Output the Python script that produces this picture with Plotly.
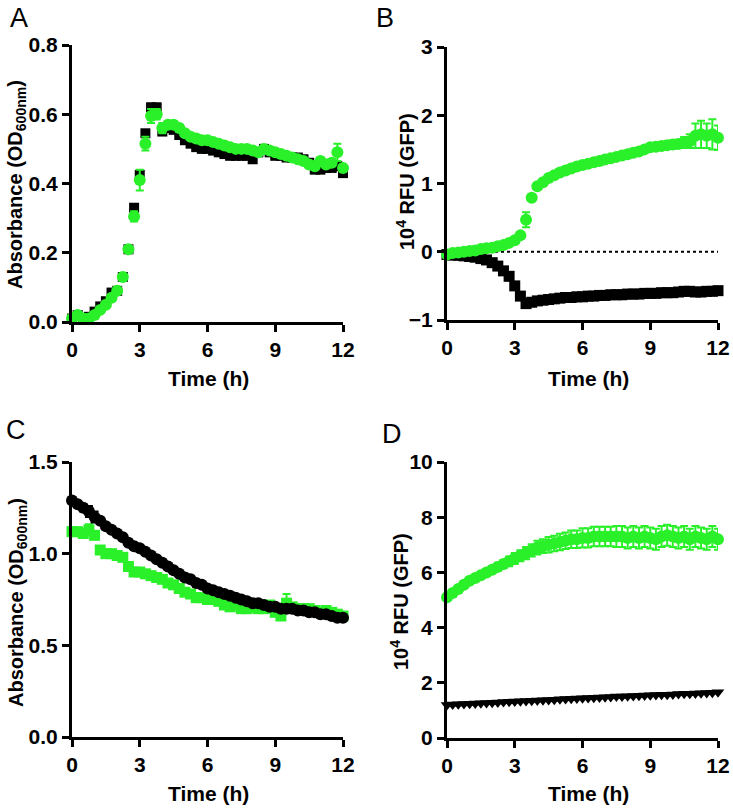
import plotly.graph_objects as go

W, H = 733, 808

time_h = [0, 0.25, 0.5, 0.75, 1, 1.25, 1.5, 1.75, 2, 2.25, 2.5, 2.75, 3, 3.25, 3.5, 3.75,
          4, 4.25, 4.5, 4.75, 5, 5.25, 5.5, 5.75, 6, 6.25, 6.5, 6.75, 7, 7.25, 7.5, 7.75,
          8, 8.25, 8.5, 8.75, 9, 9.25, 9.5, 9.75, 10, 10.25, 10.5, 10.75, 11, 11.25, 11.5, 11.75, 12]

# Panel A: absorbance
a_black = [0.010, 0.020, 0.010, 0.015, 0.030, 0.045, 0.060, 0.085, 0.090, 0.130,
           0.210, 0.330, 0.425, 0.545, 0.620, 0.620, 0.550, 0.560, 0.555, 0.540,
           0.525, 0.515, 0.505, 0.500, 0.500, 0.495, 0.490, 0.485, 0.480, 0.480,
           0.480, 0.480, 0.470, 0.490, 0.500, 0.490, 0.480, 0.480, 0.475, 0.475,
           0.475, 0.470, 0.460, 0.440, 0.440, 0.445, 0.445, 0.450, 0.430]
a_black_err = [0.005] * 14 + [0.010, 0.010] + [0.005] * 33
a_green = [0.010, 0.020, 0.010, 0.010, 0.020, 0.035, 0.050, 0.070, 0.090, 0.130,
           0.210, 0.305, 0.410, 0.515, 0.595, 0.600, 0.560, 0.570, 0.570, 0.560,
           0.545, 0.535, 0.530, 0.525, 0.525, 0.520, 0.515, 0.510, 0.505, 0.500,
           0.500, 0.500, 0.495, 0.490, 0.500, 0.495, 0.490, 0.485, 0.480, 0.475,
           0.470, 0.465, 0.455, 0.450, 0.465, 0.455, 0.460, 0.490, 0.445]
a_green_err = [0.005] * 10 + [0.005, 0.015, 0.030, 0.020, 0.020, 0.015, 0.015, 0.010, 0.010, 0.010] \
              + [0.005] * 20 + [0.005, 0.005, 0.005, 0.005, 0.010, 0.005, 0.010, 0.025, 0.010]

# Panel B: GFP fluorescence (10^4 RFU)
b_black = [-0.04, -0.05, -0.05, -0.06, -0.07, -0.08, -0.10, -0.12, -0.16, -0.21,
           -0.28, -0.36, -0.50, -0.65, -0.76, -0.74, -0.72, -0.71, -0.70, -0.69,
           -0.68, -0.67, -0.67, -0.66, -0.66, -0.65, -0.65, -0.64, -0.64, -0.63,
           -0.63, -0.63, -0.62, -0.62, -0.62, -0.61, -0.61, -0.61, -0.60, -0.60,
           -0.60, -0.59, -0.58, -0.58, -0.59, -0.59, -0.58, -0.58, -0.57]
b_black_err = [0.02] * 44 + [0.03, 0.04, 0.04, 0.04, 0.04]
b_green = [-0.04, -0.02, -0.01, 0.00, 0.01, 0.02, 0.04, 0.05, 0.06, 0.08,
           0.10, 0.13, 0.17, 0.24, 0.47, 0.79, 0.96, 1.02, 1.08, 1.12,
           1.16, 1.19, 1.22, 1.25, 1.27, 1.29, 1.31, 1.33, 1.35, 1.37,
           1.39, 1.41, 1.43, 1.45, 1.47, 1.50, 1.53, 1.54, 1.55, 1.56,
           1.57, 1.58, 1.60, 1.62, 1.70, 1.72, 1.70, 1.72, 1.67]
b_green_err = [0.01] * 13 + [0.02, 0.11, 0.02, 0.02, 0.02, 0.02, 0.02] + [0.02] * 13 \
              + [0.03, 0.03, 0.04, 0.05, 0.05, 0.05, 0.05, 0.06, 0.06, 0.08, 0.10, 0.18, 0.20, 0.18, 0.22, 0.18]

# Panel C: absorbance
c_black = [1.29, 1.27, 1.25, 1.23, 1.20, 1.18, 1.15, 1.13, 1.11, 1.09,
           1.06, 1.04, 1.03, 1.01, 0.99, 0.97, 0.95, 0.93, 0.91, 0.89,
           0.87, 0.86, 0.84, 0.83, 0.81, 0.80, 0.79, 0.78, 0.77, 0.76,
           0.75, 0.74, 0.73, 0.73, 0.72, 0.71, 0.71, 0.70, 0.70, 0.70,
           0.69, 0.69, 0.68, 0.68, 0.67, 0.67, 0.66, 0.65, 0.65]
c_black_err = [0.01, 0.01, 0.02, 0.03, 0.03] + [0.01] * 44
c_green = [1.12, 1.12, 1.11, 1.13, 1.10, 1.02, 1.00, 1.00, 0.99, 0.98,
           0.93, 0.90, 0.90, 0.89, 0.88, 0.87, 0.86, 0.84, 0.83, 0.81,
           0.79, 0.78, 0.76, 0.76, 0.75, 0.75, 0.74, 0.72, 0.71, 0.72,
           0.70, 0.70, 0.71, 0.70, 0.70, 0.72, 0.68, 0.66, 0.73, 0.71,
           0.70, 0.70, 0.70, 0.69, 0.68, 0.69, 0.68, 0.67, 0.66]
c_green_err = [0.02] * 3 + [0.03] + [0.02] * 34 + [0.05] + [0.02] * 10

# Panel D: GFP fluorescence (10^4 RFU)
d_black = [1.20, 1.21, 1.22, 1.23, 1.24, 1.25, 1.26, 1.27, 1.28, 1.29,
           1.30, 1.31, 1.32, 1.33, 1.34, 1.35, 1.36, 1.37, 1.38, 1.39,
           1.40, 1.41, 1.42, 1.43, 1.44, 1.45, 1.46, 1.47, 1.48, 1.49,
           1.50, 1.50, 1.51, 1.52, 1.53, 1.54, 1.55, 1.56, 1.57, 1.57,
           1.58, 1.59, 1.60, 1.60, 1.61, 1.62, 1.63, 1.64, 1.66]
d_black_err = [0.03] * 49
d_green = [5.10, 5.25, 5.40, 5.55, 5.70, 5.80, 5.90, 6.00, 6.10, 6.20,
           6.30, 6.40, 6.50, 6.60, 6.70, 6.80, 6.90, 6.95, 7.00, 7.05,
           7.10, 7.15, 7.20, 7.20, 7.25, 7.25, 7.30, 7.30, 7.30, 7.30,
           7.30, 7.30, 7.25, 7.30, 7.25, 7.30, 7.25, 7.20, 7.30, 7.35,
           7.30, 7.25, 7.30, 7.20, 7.30, 7.25, 7.20, 7.30, 7.20]
d_green_err = [0.05, 0.05, 0.08, 0.08, 0.10, 0.10, 0.10, 0.12, 0.12, 0.15,
               0.15, 0.18, 0.20, 0.20, 0.22, 0.22, 0.25, 0.25, 0.28, 0.28,
               0.30, 0.30, 0.32, 0.32, 0.35, 0.35, 0.35, 0.35, 0.35, 0.35] + [0.38] * 19

x_ticks = [0, 3, 6, 9, 12]
panel_letters = ["A", "B", "C", "D"]
x_title = "Time (h)"
y_title_abs = "Absorbance (OD<sub>600nm</sub>)"
y_title_gfp = "10<sup>4</sup> RFU (GFP)"

GREEN = "#2AF02A"
BLACK = "#000000"
FONT = "Liberation Sans, Arial, sans-serif"


def px(x):
    return x / W


def py(y):
    return 1 - y / H


fig = go.Figure()


def add_series(ax, ay, y, err, color, symbol, size):
    fig.add_trace(go.Scatter(
        x=time_h, y=y, xaxis=ax, yaxis=ay, mode="markers",
        marker=dict(color=color, symbol=symbol, size=size, line=dict(width=0)),
        error_y=dict(type="data", array=err, color=color, thickness=2, width=4),
        cliponaxis=False, showlegend=False, hoverinfo="x+y"))


add_series("x", "y", a_black, a_black_err, BLACK, "square", 10)
add_series("x", "y", a_green, a_green_err, GREEN, "circle", 12)
add_series("x2", "y2", b_black, b_black_err, BLACK, "square", 11)
add_series("x2", "y2", b_green, b_green_err, GREEN, "circle", 12)
add_series("x3", "y3", c_green, c_green_err, GREEN, "square", 11)
add_series("x3", "y3", c_black, c_black_err, BLACK, "circle", 12)
add_series("x4", "y4", d_black, d_black_err, BLACK, "triangle-down", 11)
add_series("x4", "y4", d_green, d_green_err, GREEN, "circle", 12)

tick_font = dict(family=FONT, size=21, color="black", weight="bold")
common = dict(showline=True, linewidth=3, linecolor="black", ticks="outside",
              ticklen=7, tickwidth=3, tickcolor="black", showgrid=False,
              zeroline=False, tickfont=tick_font, automargin=False, fixedrange=True,
              ticklabeloverflow="allow")

left_dom = [px(72), px(343)]
right_dom = [px(447), px(718)]

layout = dict(
    template="none",
    width=W, height=H, margin=dict(l=0, r=0, t=0, b=0, pad=0, autoexpand=False),
    paper_bgcolor="white", plot_bgcolor="white",
    xaxis=dict(domain=left_dom, range=[0, 12], tickvals=x_ticks, anchor="y", **common),
    yaxis=dict(domain=[py(322), py(45)], range=[0, 0.8], tickvals=[0, 0.2, 0.4, 0.6, 0.8],
               tickformat=".1f", anchor="x", **common),
    xaxis2=dict(domain=right_dom, range=[0, 12], tickvals=x_ticks, anchor="y2", **common),
    yaxis2=dict(domain=[py(320), py(47)], range=[-1, 3], tickvals=[-1, 0, 1, 2, 3],
                anchor="x2", **common),
    xaxis3=dict(domain=left_dom, range=[0, 12], tickvals=x_ticks, anchor="y3", **common),
    yaxis3=dict(domain=[py(737), py(462)], range=[0, 1.5], tickvals=[0, 0.5, 1.0, 1.5],
                tickformat=".1f", anchor="x3", **common),
    xaxis4=dict(domain=right_dom, range=[0, 12], tickvals=x_ticks, anchor="y4", **common),
    yaxis4=dict(domain=[py(738), py(462)], range=[0, 10], tickvals=[0, 2, 4, 6, 8, 10],
                anchor="x4", **common),
)
fig.update_layout(**layout)

# dotted zero reference line in panel B
fig.add_shape(type="line", xref="x2", yref="y2", x0=0, x1=12, y0=0, y1=0,
              line=dict(color="black", width=2, dash="dot"), layer="below")

x_title_font = dict(family=FONT, size=21, color="black", weight="bold")
y_title_font = dict(family=FONT, size=20, color="black", weight="bold")
letter_font = dict(family=FONT, size=27, color="black")

anns = []
for (lx, ly), letter in zip([(19, 18), (385, 18), (16, 430), (392, 434)], panel_letters):
    anns.append(dict(x=px(lx), y=py(ly), xref="paper", yref="paper", text=letter,
                     showarrow=False, font=letter_font, xanchor="center", yanchor="middle"))
for (tx, ty) in [(208, 378), (588, 378), (208, 793), (588, 793)]:
    anns.append(dict(x=px(tx), y=py(ty), xref="paper", yref="paper", text=x_title,
                     showarrow=False, font=x_title_font, xanchor="center", yanchor="middle"))
for (tx, ty, txt) in [(17, 185, y_title_abs), (406, 182, y_title_gfp),
                      (17, 603, y_title_abs), (399, 602, y_title_gfp)]:
    anns.append(dict(x=px(tx), y=py(ty), xref="paper", yref="paper", text=txt,
                     showarrow=False, font=y_title_font, textangle=-90,
                     xanchor="center", yanchor="middle"))
fig.update_layout(annotations=anns)

# remove the browser's default page margin so the figure fills the window exactly
fig.write_html("out.html",
               config={"displayModeBar": False},
               post_script="document.body.style.margin='0';document.body.style.overflow='hidden';")
